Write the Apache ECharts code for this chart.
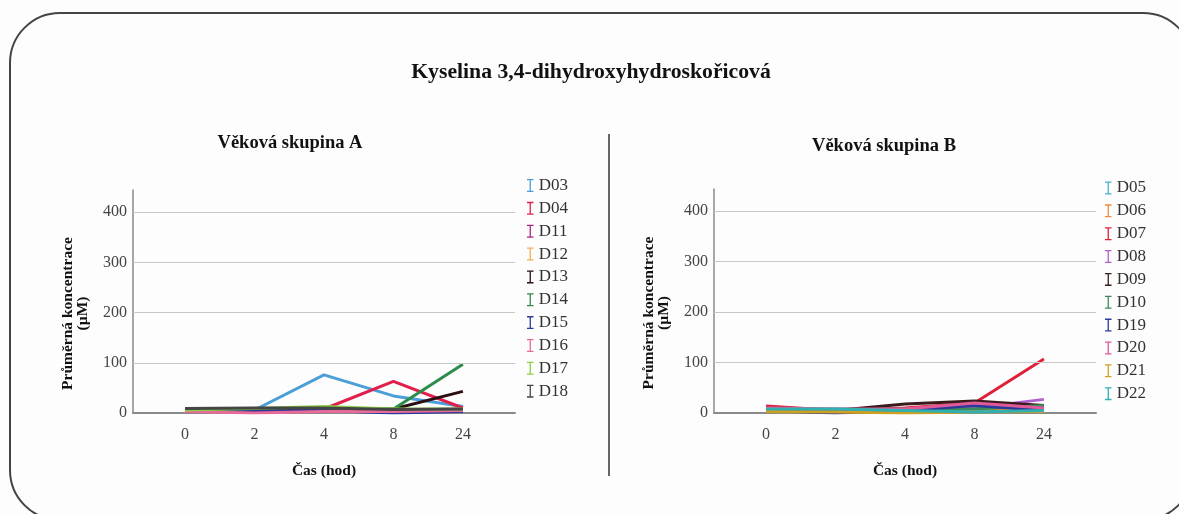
<!DOCTYPE html>
<html>
<head>
<meta charset="utf-8">
<script src="https://cdn.jsdelivr.net/npm/echarts@6/dist/echarts.min.js"></script>
<style>
  html, body { margin: 0; padding: 0; background: #fdfdfd; }
  #chart { width: 1179px; height: 514px; }
</style>
</head>
<body>
<div id="chart"></div>
<script>
// Sampling times (hours) and value-axis tick labels
const timePoints = ['0', '2', '4', '8', '24'];
const yTicks = [0, 100, 200, 300, 400];
const yGridLines = [100, 200, 300, 400];

// Age group A — mean concentration (µM) per subject
const groupA = ['D03', 'D04', 'D11', 'D12', 'D13', 'D14', 'D15', 'D16', 'D17', 'D18'];
const colorsA = ['#4a9fd8', '#e0204a', '#a3287c', '#f0b050', '#2a1010', '#2e8b4a', '#2a3a9a', '#e86a9a', '#8ad040', '#454545'];
const D03 = [5, 6, 76, 34, 13];
const D04 = [3, 3, 8, 63, 10];
const D11 = [4, 3, 4, 5, 5];
const D12 = [5, 5, 6, 6, 8];
const D13 = [8, 8, 8, 8, 43];
const D14 = [7, 9, 9, 8, 97];
const D15 = [5, 5, 5, 0, 3];
const D16 = [3, 0, 3, 3, 5];
const D17 = [6, 9, 13, 8, 8];
const D18 = [9, 10, 10, 7, 8];
const valuesA = [D03, D04, D11, D12, D13, D14, D15, D16, D17, D18];

// Age group B — mean concentration (µM) per subject
const groupB = ['D05', 'D06', 'D07', 'D08', 'D09', 'D10', 'D19', 'D20', 'D21', 'D22'];
const colorsB = ['#4ab0d8', '#f08a40', '#e0203a', '#b060d0', '#3a1a1a', '#3a8a5a', '#2a3a9a', '#e05a9a', '#d0a020', '#30b0b0'];
const D05 = [8, 8, 8, 5, 5];
const D06 = [12, 5, 3, 8, 10];
const D07 = [14, 5, 10, 20, 107];
const D08 = [5, 5, 5, 10, 27];
const D09 = [8, 5, 18, 24, 15];
const D10 = [6, 6, 8, 8, 15];
const D19 = [5, 0, 5, 15, 5];
const D20 = [10, 8, 8, 20, 10];
const D21 = [3, 2, 0, 2, 3];
const D22 = [8, 8, 5, 2, 5];
const valuesB = [D05, D06, D07, D08, D09, D10, D19, D20, D21, D22];

const SERIF = 'Liberation Serif';
const legendIcon = 'path://M0,0H10V2H6V18H10V20H0V18H4V2H0Z';

function makeXAxis(gridIndex) {
  return {
    type: 'value', gridIndex: gridIndex,
    min: -0.75, max: 4.75,
    name: 'Čas (hod)', nameLocation: 'middle', nameGap: 50,
    nameTextStyle: { fontFamily: SERIF, fontWeight: 'bold', fontSize: 15.5, color: '#111' },
    axisLine: { show: true, onZero: false, lineStyle: { color: '#8a8a8a', width: 2 } },
    axisTick: { show: false },
    splitLine: { show: false },
    axisLabel: {
      customValues: timePoints.map((t, i) => i),
      formatter: v => timePoints[Math.round(v)],
      margin: 14, fontFamily: SERIF, fontSize: 16, color: '#444'
    }
  };
}

function makeYAxis(gridIndex) {
  return {
    type: 'value', gridIndex: gridIndex,
    min: 0, max: 444,
    name: 'Průměrná koncentrace\n(µM)', nameLocation: 'middle', nameGap: 42,
    nameTextStyle: { fontFamily: SERIF, fontWeight: 'bold', fontSize: 15.5, color: '#111', lineHeight: 15.5, padding: [0, 24, 0, 0] },
    axisLine: { show: true, onZero: false, lineStyle: { color: '#8a8a8a', width: 1.5 } },
    axisTick: { show: false },
    splitLine: { show: false },
    axisLabel: { customValues: yTicks, margin: 6, fontFamily: SERIF, fontSize: 16, color: '#444' }
  };
}

function gridSeries(idx) {
  return {
    type: 'line', xAxisIndex: idx, yAxisIndex: idx, data: [], z: 1,
    markLine: {
      silent: true, symbol: ['none', 'none'], label: { show: false },
      lineStyle: { color: '#c8c8c8', type: 'solid', width: 1 },
      data: yGridLines.map(v => ({ yAxis: v }))
    }
  };
}

function dataSeries(names, colors, values, idx) {
  return names.map((n, k) => ({
    name: n, type: 'line', xAxisIndex: idx, yAxisIndex: idx, z: 2,
    symbol: 'none', color: colors[k],
    lineStyle: { width: 3, color: colors[k] },
    data: values[k].map((v, i) => [i, v])
  }));
}

function makeLegend(names, left, top) {
  return {
    data: names, orient: 'vertical', left: left, top: top, padding: 0,
    icon: legendIcon, itemWidth: 7, itemHeight: 13, itemGap: 5.85,
    textStyle: { fontFamily: SERIF, fontSize: 17, color: '#333', padding: [0, 0, 0, 0] }
  };
}

const chart = echarts.init(document.getElementById('chart'));
chart.setOption({
  backgroundColor: '#fdfdfd',
  animation: false,
  title: [
    { text: 'Kyselina 3,4-dihydroxyhydroskořicová', left: 591, top: 61, textAlign: 'center', padding: 0,
      textStyle: { fontFamily: SERIF, fontWeight: 'bold', fontSize: 21.7, color: '#111' } },
    { text: 'Věková skupina A', left: 290, top: 134, textAlign: 'center', padding: 0,
      textStyle: { fontFamily: SERIF, fontWeight: 'bold', fontSize: 18.5, color: '#111' } },
    { text: 'Věková skupina B', left: 884, top: 137, textAlign: 'center', padding: 0,
      textStyle: { fontFamily: SERIF, fontWeight: 'bold', fontSize: 18.5, color: '#111' } }
  ],
  legend: [makeLegend(groupA, 527, 177), makeLegend(groupB, 1105, 179.5)],
  grid: [
    { left: 133, top: 190, width: 382, height: 223 },
    { left: 714, top: 189, width: 382, height: 224 }
  ],
  xAxis: [makeXAxis(0), makeXAxis(1)],
  yAxis: [makeYAxis(0), makeYAxis(1)],
  series: [].concat(
    gridSeries(0), gridSeries(1),
    dataSeries(groupA, colorsA, valuesA, 0),
    dataSeries(groupB, colorsB, valuesB, 1)
  ),
  graphic: [
    { type: 'rect', shape: { x: 10, y: 13, width: 1183, height: 507, r: 50 },
      style: { fill: 'none', stroke: '#444', lineWidth: 2 }, silent: true },
    { type: 'line', shape: { x1: 609, y1: 134, x2: 609, y2: 476 },
      style: { stroke: '#333', lineWidth: 1.5 }, silent: true }
  ]
});
</script>
</body>
</html>
